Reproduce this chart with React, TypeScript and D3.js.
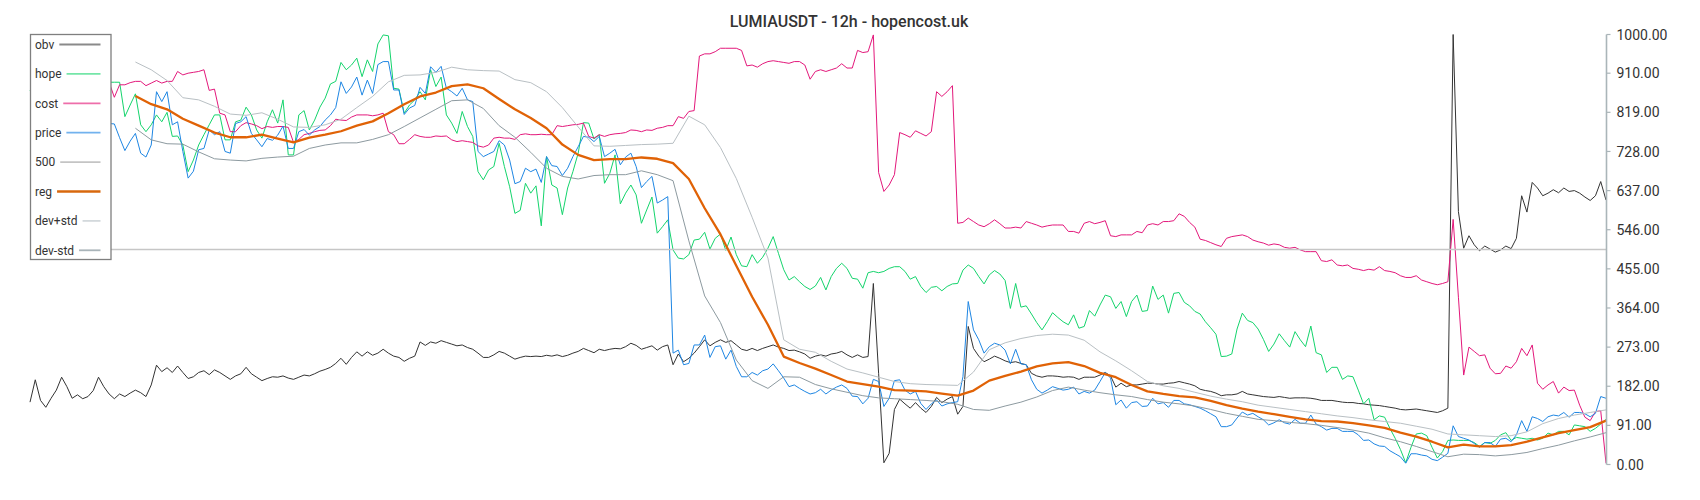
import React, { useEffect, useRef } from 'react';
import * as d3 from 'd3';

const title = 'LUMIAUSDT - 12h - hopencost.uk';

const obv = [
  145,197,149,133,154,173,203,181,154,162,
  153,158,172,203,181,164,153,164,158,166,
  173,167,158,185,231,216,225,214,229,214,
  200,204,214,218,209,220,214,206,198,206,
  211,226,211,203,195,200,204,203,206,201,
  198,203,208,206,211,217,221,226,235,247,
  233,249,262,252,262,254,259,268,259,252,
  249,240,247,252,285,277,285,282,288,284,
  280,276,278,272,268,259,249,249,255,263,
  259,252,245,249,252,251,252,251,254,252,
  255,251,254,259,263,270,265,260,268,265,
  268,270,269,274,282,277,268,272,276,266,
  274,278,232,257,239,247,259,274,290,276,
  284,290,284,288,278,268,265,270,265,270,
  274,278,273,270,265,266,262,257,247,252,
  255,252,257,259,263,255,249,255,249,251,
  421,212,4,26,128,152,141,131,144,131,
  121,135,156,144,152,158,117,135,321,270,
  252,239,245,252,247,241,237,239,235,232,
  212,206,203,206,206,205,203,204,203,198,
  203,203,203,208,214,206,180,189,181,185,
  185,187,189,189,187,187,189,190,193,190,
  187,183,175,172,170,166,160,162,162,164,
  170,164,162,160,158,157,156,158,156,154,
  155,155,155,154,152,149,149,149,147,145,
  144,144,142,141,139,138,137,135,133,131,
  128,127,128,129,127,125,123,121,125,131,
  1000,588,503,532,511,497,508,501,494,499,
  508,502,526,625,587,656,643,625,631,639,
  632,643,635,637,631,622,614,625,658,615,
];

const hope = [
  870,885,860,890,875,880,895,870,885,878,
  890,882,868,886,892,889,889,889,809,836,
  862,790,774,790,813,797,819,763,764,743,
  681,708,743,767,790,813,813,755,755,797,
  801,831,813,778,759,797,825,794,848,720,
  720,813,823,778,801,831,852,885,891,935,
  918,929,945,902,941,914,978,999,997,875,
  873,817,836,848,867,848,918,879,901,813,
  794,770,821,786,763,681,662,685,693,747,
  693,646,584,591,654,631,648,555,716,650,
  643,581,643,681,724,795,794,757,767,654,
  677,720,606,631,650,627,561,592,622,538,
  553,569,499,480,478,488,522,524,540,501,
  526,536,498,529,488,462,460,488,468,482,
  503,530,491,453,429,437,425,414,407,415,
  435,406,437,456,468,456,433,431,410,446,
  449,446,449,456,460,460,449,431,437,414,
  400,412,414,404,414,420,421,452,464,456,
  437,420,441,451,443,428,363,421,366,369,
  350,330,313,332,353,342,332,325,348,317,
  321,358,345,371,394,390,363,379,344,379,
  394,356,358,415,384,394,352,398,400,377,
  369,356,350,332,318,303,251,252,257,315,
  352,335,330,315,291,263,280,304,288,273,
  309,290,274,322,260,255,214,226,226,198,
  206,204,173,141,154,104,113,110,84,61,
  35,4,40,71,73,67,40,15,30,56,
  57,56,56,56,51,42,51,49,56,69,
  74,56,63,61,59,61,57,61,73,69,
  77,77,69,92,90,88,77,84,94,105,
];

const cost = [
  880,872,885,878,890,884,876,888,881,874,
  886,879,883,887,880,889,854,883,883,888,
  891,891,881,887,893,887,891,891,914,906,
  910,912,914,918,870,873,817,813,774,774,
  788,795,792,788,781,786,784,786,786,784,
  749,756,767,770,774,777,778,788,803,801,
  800,808,813,813,813,811,813,817,774,767,
  746,746,756,767,763,761,761,764,763,764,
  755,751,753,751,749,741,738,743,759,761,
  759,759,756,767,769,767,767,768,767,767,
  788,786,788,790,791,794,763,759,767,763,
  767,769,770,772,778,777,774,778,777,782,
  784,788,788,809,805,821,823,950,955,955,
  960,968,968,968,968,963,927,929,924,932,
  937,939,937,935,933,937,937,929,896,914,
  918,914,918,922,932,922,922,963,958,960,
  999,679,635,650,674,772,767,761,776,770,
  764,774,867,856,867,881,561,563,573,565,
  557,553,560,569,560,550,550,552,550,565,
  561,557,552,555,557,557,557,542,542,538,
  561,565,560,563,567,532,530,534,534,534,
  542,539,557,560,557,565,565,567,583,577,
  563,552,524,521,516,511,507,526,530,532,
  534,530,522,518,515,510,513,511,505,503,
  505,499,495,495,495,474,472,476,464,462,
  464,456,454,451,454,452,460,451,449,446,
  439,435,435,439,429,425,421,418,421,425,
  570,389,208,273,263,253,255,224,211,212,
  229,224,239,270,253,278,189,175,185,193,
  166,180,172,173,138,110,102,123,125,3,
];

const price = [
  795,788,802,780,796,770,785,808,790,776,
  798,785,770,792,800,793,792,760,730,752,
  770,724,715,743,867,844,867,790,797,728,
  666,682,732,735,778,767,774,728,724,793,
  797,809,770,755,739,758,754,766,787,735,
  735,774,779,766,778,786,801,813,830,890,
  863,878,901,859,894,863,930,937,937,871,
  871,814,829,835,877,863,925,912,926,875,
  867,857,875,848,844,728,716,722,728,753,
  743,708,653,658,689,681,687,656,716,695,
  693,672,689,716,739,763,761,751,763,716,
  724,733,697,715,724,693,644,658,670,608,
  615,623,259,266,232,235,278,278,301,249,
  274,276,245,266,228,204,204,214,208,218,
  222,234,218,201,181,185,177,170,164,167,
  175,164,173,180,185,177,159,158,141,154,
  198,193,135,154,195,197,173,164,170,142,
  128,141,150,136,141,144,146,204,379,313,
  290,259,274,282,278,266,234,268,234,232,
  197,175,166,173,181,177,173,175,180,164,
  170,166,173,193,214,201,139,150,131,144,
  146,135,136,154,141,144,133,149,149,141,
  139,135,131,125,118,111,88,88,92,108,
  122,115,119,111,104,92,97,104,97,94,
  105,96,96,115,94,88,80,84,84,77,
  77,77,69,56,57,48,43,42,32,25,
  18,3,25,25,22,20,12,9,17,26,
  90,65,61,57,49,40,51,51,42,59,
  61,53,69,102,77,111,107,100,111,115,
  113,121,110,121,121,118,111,119,158,154,
];

const level500 = 500;

// smooth series sampled every 3 candles starting at candle 20
const smoothStart = 20;
const smoothStep = 3;

const reg = [
  857,838,826,804,788,772,761,761,767,758,
  749,760,767,775,788,798,817,838,856,865,
  880,884,875,850,826,806,782,744,720,708,
  710,710,714,711,701,664,596,535,462,390,
  325,251,236,223,208,193,187,181,173,172,
  170,165,160,172,195,206,216,228,235,238,
  229,213,203,185,170,164,159,156,148,138,
  130,123,117,111,105,101,100,96,91,85,
  74,65,53,40,46,42,42,45,53,63,
  73,80,87,102,
];

const devUp = [
  936,918,893,853,848,833,815,812,818,803,
  785,784,790,803,830,856,890,905,906,912,
  924,918,916,915,895,888,867,830,785,741,
  740,742,744,745,747,810,790,737,665,575,
  480,290,268,261,240,222,213,203,193,188,
  186,185,184,215,267,283,293,300,303,301,
  289,262,241,218,193,183,177,168,159,152,
  146,138,133,128,123,118,113,109,104,100,
  96,89,82,71,69,67,65,67,76,95,
  107,115,121,127,
];

const devDn = [
  782,755,746,745,727,711,708,706,712,715,
  717,735,743,748,748,756,767,786,806,826,
  846,848,828,788,761,726,689,670,664,672,
  674,674,683,674,660,520,392,330,243,195,
  177,204,203,186,176,168,160,155,153,151,
  149,146,140,128,126,136,145,157,172,180,
  173,167,162,158,151,145,141,136,128,119,
  112,105,102,98,95,91,86,80,73,62,
  53,42,30,18,24,23,20,23,28,37,
  45,55,64,74,
];

const yTicks = [0, 91, 182, 273, 364, 455, 546, 637, 728, 819, 910, 1000];

const legendNames = ['obv', 'hope', 'cost', 'price', '500', 'reg', 'dev+std', 'dev-std'];

const FONT = 'Roboto, "Noto Sans", sans-serif';

export default function App() {
  const ref = useRef<SVGSVGElement>(null);

  useEffect(() => {
    const svg = d3.select(ref.current);
    svg.selectAll('*').remove();

    const x = d3.scaleLinear().domain([0, obv.length - 1]).range([30, 1606]);
    const y = d3.scaleLinear().domain([0, 1000]).range([464.5, 34.5]);

    const full = d3.line<number>().x((_, i) => x(i)).y((d) => y(d));
    const smooth = d3
      .line<number>()
      .x((_, i) => x(smoothStart + i * smoothStep))
      .y((d) => y(d));

    const series: { data: number[]; gen: any; color: string; w: number }[] = [
      { data: obv, gen: full, color: '#333333', w: 1 },
      { data: hope, gen: full, color: '#14d46c', w: 1 },
      { data: cost, gen: full, color: '#e3187b', w: 1 },
      { data: price, gen: full, color: '#1e86e3', w: 1 },
    ];

    const plot = svg.append('g');
    series.forEach((s) => {
      plot
        .append('path')
        .attr('d', s.gen(s.data))
        .attr('fill', 'none')
        .attr('stroke', s.color)
        .attr('stroke-width', s.w)
        .attr('stroke-linejoin', 'round');
    });

    plot
      .append('line')
      .attr('x1', x(0))
      .attr('x2', x(obv.length - 1))
      .attr('y1', y(level500))
      .attr('y2', y(level500))
      .attr('stroke', '#c6c6c6')
      .attr('stroke-width', 1.5);

    plot
      .append('path')
      .attr('d', smooth(reg))
      .attr('fill', 'none')
      .attr('stroke', '#e06206')
      .attr('stroke-width', 2.3)
      .attr('stroke-linejoin', 'round');
    plot
      .append('path')
      .attr('d', smooth(devUp))
      .attr('fill', 'none')
      .attr('stroke', '#b9c0c4')
      .attr('stroke-width', 1);
    plot
      .append('path')
      .attr('d', smooth(devDn))
      .attr('fill', 'none')
      .attr('stroke', '#8d9aa0')
      .attr('stroke-width', 1);

    // right axis
    const axisX = 1606.5;
    const ax = svg.append('g');
    ax.append('line')
      .attr('x1', axisX)
      .attr('x2', axisX)
      .attr('y1', y(1000))
      .attr('y2', y(0))
      .attr('stroke', '#aab5b9')
      .attr('stroke-width', 1.6);
    yTicks.forEach((t) => {
      ax.append('line')
        .attr('x1', axisX)
        .attr('x2', axisX + 4)
        .attr('y1', y(t))
        .attr('y2', y(t))
        .attr('stroke', '#aab5b9')
        .attr('stroke-width', 1.2);
      ax.append('text')
        .attr('x', 1616.5)
        .attr('y', y(t))
        .attr('dy', '0.36em')
        .attr('font-family', FONT)
        .attr('font-size', 14)
        .attr('fill', '#333')
        .text(t.toFixed(2));
    });

    // title
    svg
      .append('text')
      .attr('x', 849)
      .attr('y', 26.5)
      .attr('text-anchor', 'middle')
      .attr('font-family', FONT)
      .attr('font-size', 16)
      .attr('font-weight', 500)
      .attr('fill', '#333')
      .text(title);

    // legend
    const legendColors = ['#8a8a8a', '#74e6a8', '#ee6eaa', '#72b2ee', '#c4c4c4', '#d8680e', '#d3d9dc', '#a9b4b9'];
    const legendWidths = [1.8, 1.8, 1.8, 1.8, 1.8, 2.4, 1.8, 1.8];
    const lg = svg.append('g');
    lg.append('rect')
      .attr('x', 30.5)
      .attr('y', 34.5)
      .attr('width', 80.5)
      .attr('height', 225)
      .attr('fill', '#fff')
      .attr('stroke', '#7f7f7f')
      .attr('stroke-width', 1.3);
    legendNames.forEach((name, k) => {
      const cy = 44.5 + k * 29.4;
      const txt = lg
        .append('text')
        .attr('x', 35)
        .attr('y', cy)
        .attr('dy', '0.35em')
        .attr('font-family', FONT)
        .attr('font-size', 12)
        .attr('fill', '#333')
        .text(name);
      const node = txt.node() as SVGTextElement;
      const w = node.getComputedTextLength();
      lg.append('line')
        .attr('x1', 35 + w + 5)
        .attr('x2', 100.5)
        .attr('y1', cy)
        .attr('y2', cy)
        .attr('stroke', legendColors[k])
        .attr('stroke-width', legendWidths[k]);
    });
  }, []);

  return (
    <svg
      ref={ref}
      width={1700}
      height={500}
      style={{ position: 'absolute', left: 0, top: 0, background: '#fff' }}
    />
  );
}
